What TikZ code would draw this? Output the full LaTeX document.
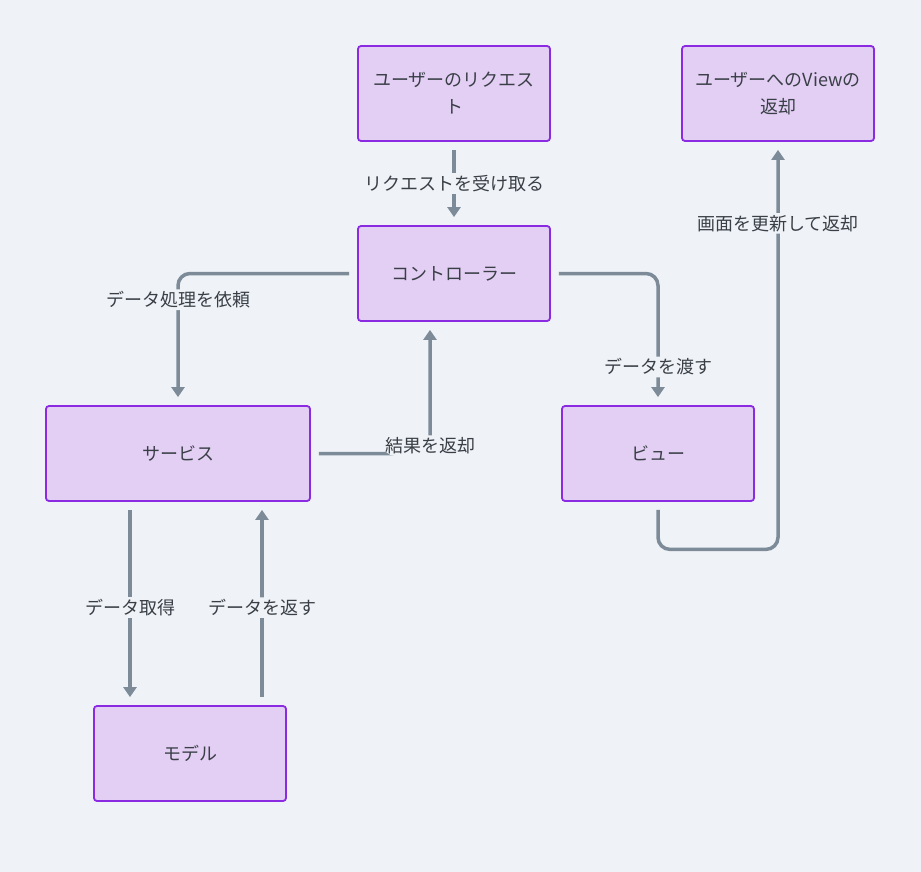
\documentclass[tikz,border=0pt]{standalone}
\usepackage{fontspec}
\setmainfont{Noto Sans CJK JP}
\usetikzlibrary{arrows.meta}

\definecolor{pagebg}{HTML}{EFF3F7}
\definecolor{boxfill}{HTML}{E3CFF4}
\definecolor{boxborder}{HTML}{8A2BE2}
\definecolor{linegray}{HTML}{7D8B99}
\definecolor{textgray}{HTML}{3A3F47}

\begin{document}
\begin{tikzpicture}[
    x=1pt, y=-1pt,
    box/.style={rectangle, rounded corners=3pt, draw=boxborder, line width=1.8pt,
                fill=boxfill, minimum width=192pt, minimum height=95pt,
                inner sep=0pt, align=center, text=textgray,
                font=\fontsize{18}{27}\selectfont},
    conn/.style={-{Triangle[width=13pt,length=10pt]}, linegray, line width=3.5pt,
                 rounded corners=12pt, shorten <=8pt, shorten >=8pt},
    lbl/.style={fill=pagebg, inner sep=2pt, text=textgray,
                font=\fontsize{18}{21}\selectfont},
]

% === Page ===
\useasboundingbox[fill=pagebg] (0,0) rectangle (921,872);

% --- Boxes ---
\node[box] (request) at (454, 93.5) {ユーザーのリクエス\\ト};
\node[box] (reply)   at (778, 93.5) {ユーザーへのViewの\\返却};
\node[box] (control) at (454, 273.5) {コントローラー};
\node[box, minimum width=264pt] (service) at (178, 453.5) {サービス};
\node[box] (view)    at (658, 453.5) {ビュー};
\node[box] (model)   at (190, 753.5) {モデル};

% --- Connections ---
% request -> controller
\draw[conn] (request.south) -- node[lbl, pos=0.5] {リクエストを受け取る} (control.north);
% controller <-> service
\draw[conn] (control.west) -| node[lbl, pos=0.6] {データ処理を依頼} (service.north);
\draw[conn] (service.east) -| node[lbl, pos=0.53] {結果を返却} ([xshift=-24pt]control.south);
% controller -> view -> reply
\draw[conn] (control.east) -| node[lbl, pos=0.855] {データを渡す} (view.north);
\draw[conn] (view.south) -- ++(0,47.5) -| node[lbl, pos=0.9] {画面を更新して返却} (reply.south);
% service <-> model
\draw[conn] ([xshift=-48pt]service.south) -- node[lbl, pos=0.52] {データ取得} ([xshift=-60pt]model.north);
\draw[conn] ([xshift=72pt]model.north) -- node[lbl, pos=0.48] {データを返す} ([xshift=84pt]service.south);

\end{tikzpicture}
\end{document}
